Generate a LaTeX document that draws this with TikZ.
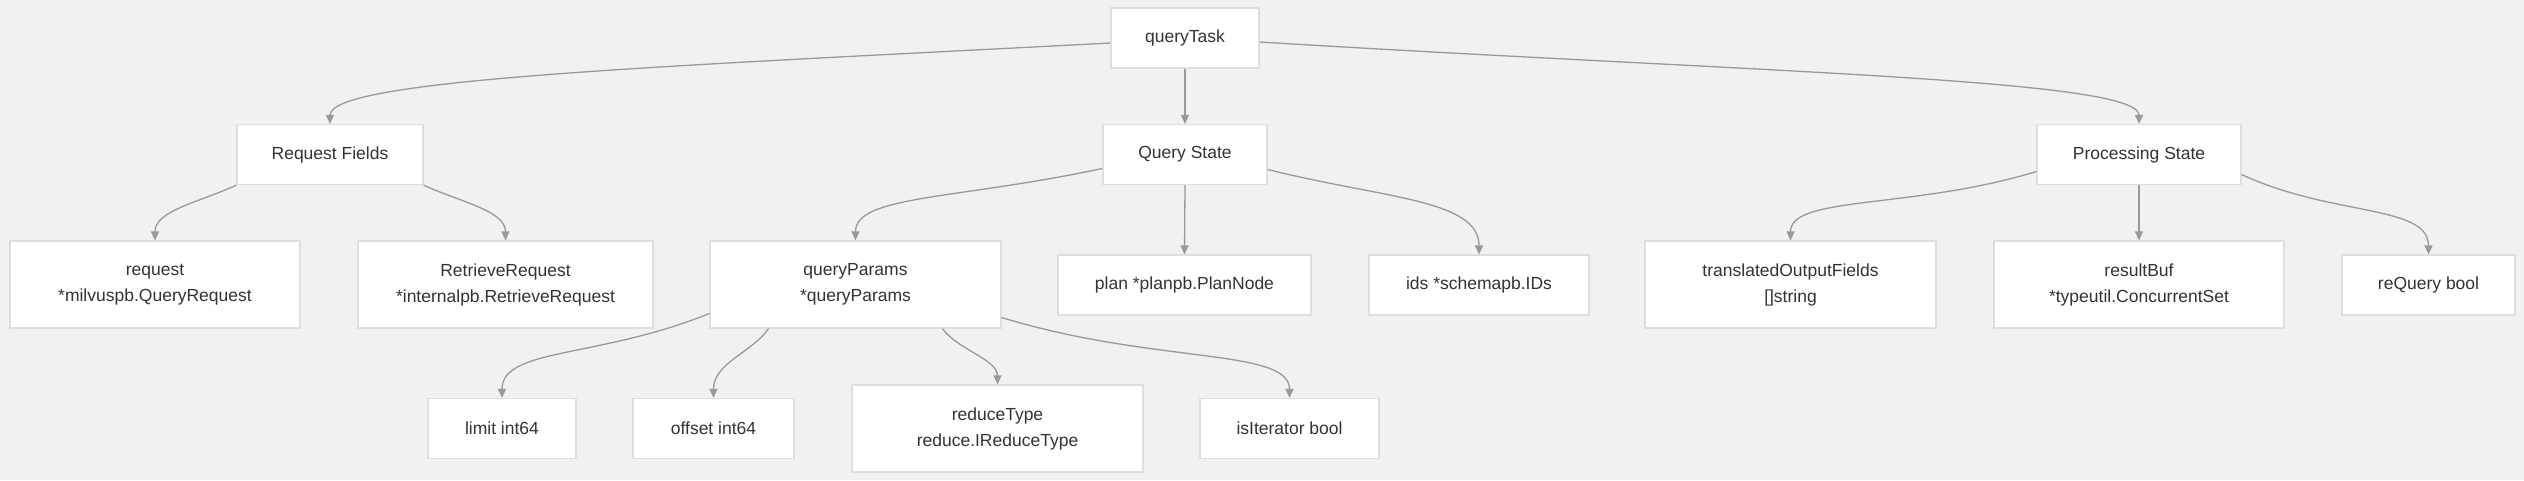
\documentclass[tikz,border=0pt]{standalone}
\usepackage{fontspec}
\setmainfont{Liberation Sans}
\usetikzlibrary{positioning}
\usetikzlibrary{arrows.meta}
\definecolor{bgc}{HTML}{F2F1F0}
\definecolor{boxline}{HTML}{DEDEDE}
\definecolor{linkc}{HTML}{999999}
\definecolor{txt}{HTML}{333333}
\tikzset{
	x=1pt, y=1pt,
	field/.style = {rectangle, draw=boxline, line width=1.2pt, fill=white,
	 text=txt, font=\fontsize{17.5}{26}\selectfont, align=center,
	 inner sep=0pt},
	one/.style = {minimum height=60pt},
	two/.style = {minimum height=87pt},
	link/.style = {draw=linkc, line width=1.3pt,
	 -{Triangle[length=9pt,width=8pt]}},
}
\begin{document}
\begin{tikzpicture}
	\fill[bgc] (0,0) rectangle (2524,-480);
	% top
	\node (qt) [field, one, minimum width=148pt] at (1185,-38) {queryTask};
	% groups
	\node (rf) [field, one, minimum width=186pt] at (330,-154.5) {Request Fields};
	\node (qs) [field, one, minimum width=164pt] at (1185,-154.5) {Query State};
	\node (ps) [field, one, minimum width=204pt] at (2139,-154.5) {Processing State};
	% fields
	\node (req) [field, two, minimum width=290pt] at (155,-284.5) {request\\*milvuspb.QueryRequest};
	\node (rr) [field, two, minimum width=295pt] at (505.5,-284.5) {RetrieveRequest\\*internalpb.RetrieveRequest};
	\node (qp) [field, two, minimum width=291pt] at (855.5,-284.5) {queryParams\\*queryParams};
	\node (plan) [field, one, minimum width=253pt] at (1184.5,-285) {plan *planpb.PlanNode};
	\node (ids) [field, one, minimum width=220pt] at (1479,-285) {ids *schemapb.IDs};
	\node (tof) [field, two, minimum width=291pt] at (1790.5,-284.5) {translatedOutputFields\\{[]}string};
	\node (rb) [field, two, minimum width=290pt] at (2139,-284.5) {resultBuf\\*typeutil.ConcurrentSet};
	\node (rq) [field, one, minimum width=173pt] at (2428.5,-285) {reQuery bool};
	% params
	\node (lim) [field, one, minimum width=148pt] at (502,-428.5) {limit int64};
	\node (off) [field, one, minimum width=161pt] at (713.5,-428.5) {offset int64};
	\node (red) [field, two, minimum width=291pt] at (997.5,-428.5) {reduceType\\reduce.IReduceType};
	\node (iter) [field, one, minimum width=179pt] at (1289.5,-428.5) {isIterator bool};
	% links
	\path ([yshift=-5pt]qt.west) edge[link, out=183, in=90, out distance=450pt, in distance=45pt] (rf.north);
	\path (qt.south) edge[link] (qs.north);
	\path ([yshift=-4pt]qt.east) edge[link, out=-3.5, in=90, out distance=500pt, in distance=45pt] (ps.north);
	\path (rf.south west) edge[link, out=205, in=90, out distance=40pt, in distance=30pt] (req.north);
	\path (rf.south east) edge[link, out=-25, in=90, out distance=40pt, in distance=30pt] (rr.north);
	\path ([yshift=-14pt]qs.west) edge[link, out=192, in=90, out distance=150pt, in distance=45pt] (qp.north);
	\path (qs.south) edge[link] (plan.north);
	\path ([yshift=-15pt]qs.east) edge[link, out=-14, in=90, out distance=120pt, in distance=55pt] (ids.north);
	\path ([yshift=-17pt]ps.west) edge[link, out=197, in=90, out distance=130pt, in distance=45pt] (tof.north);
	\path (ps.south) edge[link] (rb.north);
	\path ([yshift=-20pt]ps.east) edge[link, out=-25, in=90, out distance=100pt, in distance=50pt] (rq.north);
	\path ([yshift=-29pt]qp.west) edge[link, out=202, in=90, out distance=120pt, in distance=50pt] (lim.north);
	\path ([xshift=-87pt]qp.south) edge[link, out=235, in=90, out distance=30pt, in distance=35pt] (off.north);
	\path ([xshift=87pt]qp.south) edge[link, out=-55, in=90, out distance=25pt, in distance=25pt] (red.north);
	\path ([yshift=-33pt]qp.east) edge[link, out=-17, in=90, out distance=160pt, in distance=50pt] (iter.north);
\end{tikzpicture}
\end{document}
